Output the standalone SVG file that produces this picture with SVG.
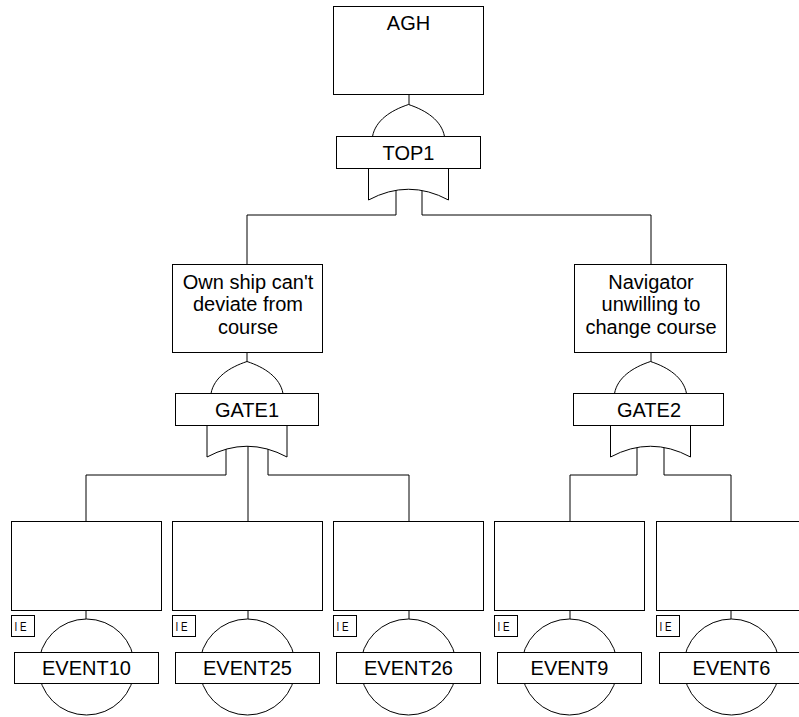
<svg xmlns="http://www.w3.org/2000/svg" width="799" height="717" viewBox="0 0 799 717">
  <style>
    .box { fill: #fff; stroke: #000; stroke-width: 1; }
    .gate { fill: #fff; stroke: #000; stroke-width: 1; stroke-linejoin: round; }
    .wire { fill: none; stroke: #000; stroke-width: 1; }
    .lbl { font-family: "Liberation Sans", Arial, sans-serif; font-size: 20px; text-anchor: middle; fill: #000; }
    .ie { font-family: "Liberation Sans", Arial, sans-serif; font-size: 13px; fill: #000; }
  </style>

  <!-- connectors: stems, gate inputs and branch lines -->
  <g id="connectors" class="wire">
    <path d="M409,94.5 V110"/>
    <path d="M396,185 V215 H247 V264.5"/>
    <path d="M422,185 V215 H651 V264.5"/>
    <path d="M247,352.5 V366"/>
    <path d="M651,352.5 V366"/>
    <path d="M226,440 V475 H86 V521.5"/>
    <path d="M248,440 V521.5"/>
    <path d="M268,440 V475 H409 V521.5"/>
    <path d="M637,440 V475 H570 V521.5"/>
    <path d="M664,440 V475 H731 V521.5"/>
    <path d="M86,610.5 V625"/>
    <path d="M248,610.5 V625"/>
    <path d="M409,610.5 V625"/>
    <path d="M570,610.5 V625"/>
    <path d="M731,610.5 V625"/>
  </g>

  <!-- top event -->
  <g id="agh">
    <rect class="box" x="333.5" y="6.5" width="150" height="88"/>
    <text class="lbl" x="408.5" y="30">AGH</text>
  </g>

  <!-- OR gate TOP1 -->
  <g id="top1">
    <path class="gate" d="M372.5,136.5 C375.5,120.5 390.5,110.5 408.5,104.5 C426.5,110.5 441.5,120.5 444.5,136.5 L448.5,168.5 L448.5,200 Q408.5,178.5 368.5,200 L368.5,168.5 Z"/>
    <rect class="box" x="336.5" y="136.5" width="144" height="32"/>
    <text class="lbl" x="408.5" y="159.5">TOP1</text>
  </g>

  <!-- intermediate event, left branch -->
  <g id="own-ship">
    <rect class="box" x="172.5" y="264.5" width="150" height="88"/>
    <text class="lbl" x="248" y="288.5">Own ship can't</text>
    <text class="lbl" x="248" y="311">deviate from</text>
    <text class="lbl" x="248" y="333.5">course</text>
  </g>

  <!-- OR gate GATE1 -->
  <g id="gate1">
    <path class="gate" d="M211,393.5 C214,377.5 229,367.5 247,361.5 C265,367.5 280,377.5 283,393.5 L287,425.5 L287,457 Q247,435.5 207,457 L207,425.5 Z"/>
    <rect class="box" x="175.5" y="393.5" width="143" height="32"/>
    <text class="lbl" x="247" y="417">GATE1</text>
  </g>

  <!-- intermediate event, right branch -->
  <g id="navigator">
    <rect class="box" x="574.5" y="264.5" width="152" height="88"/>
    <text class="lbl" x="651" y="288.5">Navigator</text>
    <text class="lbl" x="651" y="311">unwilling to</text>
    <text class="lbl" x="651" y="333.5">change course</text>
  </g>

  <!-- OR gate GATE2 -->
  <g id="gate2">
    <path class="gate" d="M614.5,393.5 C617.5,377.5 632.5,367.5 650.5,361.5 C668.5,367.5 683.5,377.5 686.5,393.5 L690.5,425.5 L690.5,457 Q650.5,435.5 610.5,457 L610.5,425.5 Z"/>
    <rect class="box" x="573.5" y="393.5" width="150" height="32"/>
    <text class="lbl" x="649" y="417">GATE2</text>
  </g>

  <!-- basic events -->
  <g id="event10">
    <rect class="box" x="11.5" y="521.5" width="150" height="89"/>
    <rect class="box" x="11.5" y="615.5" width="23" height="21"/>
    <text class="ie" x="14.5" y="631" textLength="12" lengthAdjust="spacingAndGlyphs">I E</text>
    <circle class="box" cx="86.5" cy="667" r="48"/>
    <rect class="box" x="14.5" y="652.5" width="144" height="31"/>
    <text class="lbl" x="86.5" y="675">EVENT10</text>
  </g>

  <g id="event25">
    <rect class="box" x="172.5" y="521.5" width="150" height="89"/>
    <rect class="box" x="172.5" y="615.5" width="23" height="21"/>
    <text class="ie" x="175.5" y="631" textLength="12" lengthAdjust="spacingAndGlyphs">I E</text>
    <circle class="box" cx="247.5" cy="667" r="48"/>
    <rect class="box" x="175.5" y="652.5" width="144" height="31"/>
    <text class="lbl" x="247.5" y="675">EVENT25</text>
  </g>

  <g id="event26">
    <rect class="box" x="333.5" y="521.5" width="150" height="89"/>
    <rect class="box" x="333.5" y="615.5" width="23" height="21"/>
    <text class="ie" x="336.5" y="631" textLength="12" lengthAdjust="spacingAndGlyphs">I E</text>
    <circle class="box" cx="408.5" cy="667" r="48"/>
    <rect class="box" x="336.5" y="652.5" width="144" height="31"/>
    <text class="lbl" x="408.5" y="675">EVENT26</text>
  </g>

  <g id="event9">
    <rect class="box" x="494.5" y="521.5" width="150" height="89"/>
    <rect class="box" x="494.5" y="615.5" width="23" height="21"/>
    <text class="ie" x="497.5" y="631" textLength="12" lengthAdjust="spacingAndGlyphs">I E</text>
    <circle class="box" cx="569.5" cy="667" r="48"/>
    <rect class="box" x="497.5" y="652.5" width="144" height="31"/>
    <text class="lbl" x="569.5" y="675">EVENT9</text>
  </g>

  <g id="event6">
    <rect class="box" x="656.5" y="521.5" width="150" height="89"/>
    <rect class="box" x="656.5" y="615.5" width="23" height="21"/>
    <text class="ie" x="659.5" y="631" textLength="12" lengthAdjust="spacingAndGlyphs">I E</text>
    <circle class="box" cx="731.5" cy="667" r="48"/>
    <rect class="box" x="659.5" y="652.5" width="144" height="31"/>
    <text class="lbl" x="731.5" y="675">EVENT6</text>
  </g>
</svg>
